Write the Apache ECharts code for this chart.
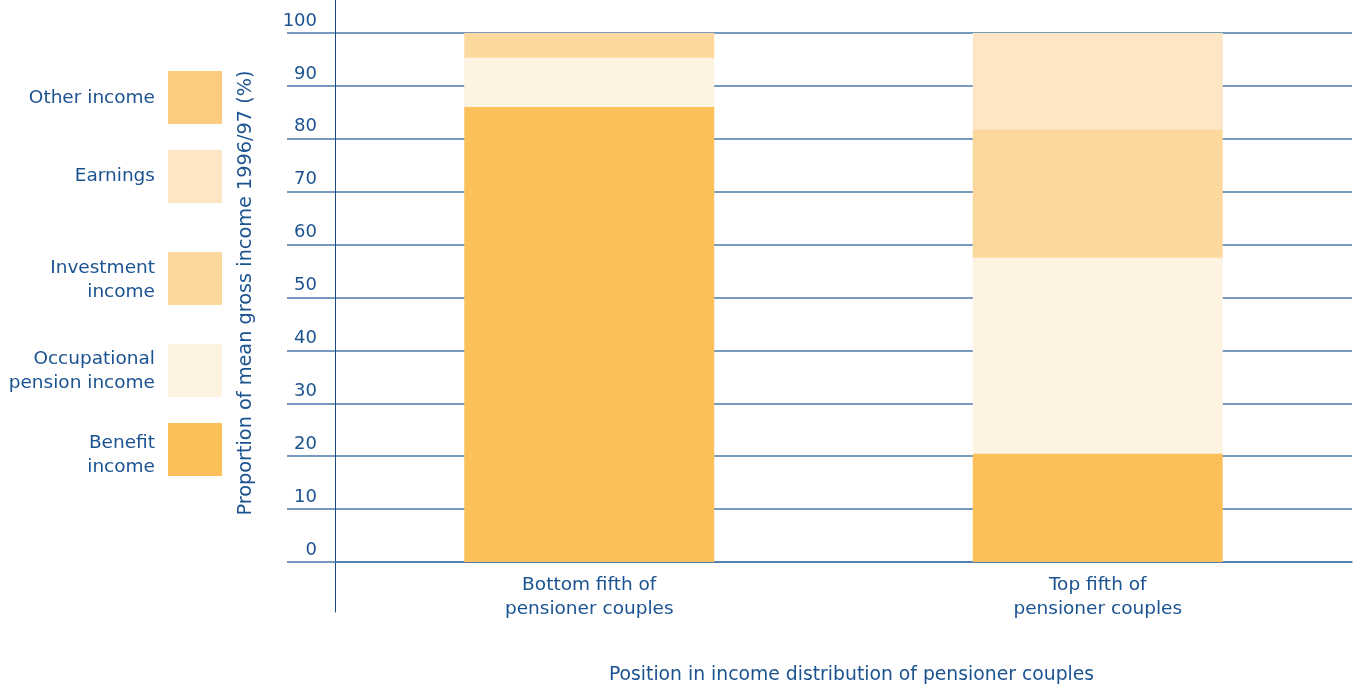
<!DOCTYPE html>
<html>
<head>
<meta charset="utf-8">
<script src="https://cdn.jsdelivr.net/npm/echarts@6/dist/echarts.min.js"></script>
<style>
  html, body { margin: 0; padding: 0; background: #ffffff; }
  #chart { width: 1359px; height: 687px; }
</style>
</head>
<body>
<div id="chart"></div>
<script>
// Income sources of pensioner couples, 1996/97 (% of mean gross income)
const categories = ['Bottom fifth of\npensioner couples', 'Top fifth of\npensioner couples'];
const benefitIncome = [86, 20.5];
const occupationalPensionIncome = [9.3, 37];
const investmentIncome = [4.7, 24.3];
const earnings = [0, 18.2];
const otherIncome = [0, 0];

const yMin = 0, yMax = 100, yStep = 10;

const TEXT = '#1b5391';
const GRID = '#4a79aa';
const AXIS = '#1f4a80';
const FONT = 'DejaVu Sans';

const KEY_W = 54, KEY_H = 53, LINE_H = 24;

// top: legend key position; shift: how far the key text sits below the key centre
const seriesDefs = [
  { name: 'Benefit income', label: 'Benefit\nincome', data: benefitIncome, color: '#fcc05a', top: 423, shift: 6 },
  { name: 'Occupational pension income', label: 'Occupational\npension income', data: occupationalPensionIncome, color: '#fdf3e0', top: 344, shift: 1 },
  { name: 'Investment income', label: 'Investment\nincome', data: investmentIncome, color: '#fcd89c', top: 252, shift: 2 },
  { name: 'Earnings', label: 'Earnings', data: earnings, color: '#fde6c4', top: 150, shift: 0 },
  { name: 'Other income', label: 'Other income', data: otherIncome, color: '#fbcc80', top: 71, shift: 1 }
];

// one legend block per entry so each key sits at its own height;
// a blank spacer line above the text pushes it down by `shift`
const legends = seriesDefs.map(d => {
  const lines = d.label.split('\n').length;
  const textH = lines * LINE_H + 2 * d.shift;
  const overflow = Math.max(0, (textH - KEY_H) / 2);
  return {
    data: [d.name],
    right: 1359 - 222,
    top: d.top - overflow,
    orient: 'vertical',
    align: 'right',
    padding: 0,
    icon: 'rect',
    itemWidth: KEY_W,
    itemHeight: KEY_H,
    selectedMode: false,
    formatter: () => (d.shift > 0 ? '{gap| }\n' : '') + d.label,
    textStyle: {
      color: TEXT, fontFamily: FONT, fontSize: 18.5, lineHeight: LINE_H,
      align: 'right', padding: [0, 8, 0, 0],
      rich: { gap: { lineHeight: 2 * d.shift, fontSize: 1 } }
    }
  };
});

const chart = echarts.init(document.getElementById('chart'), null, { renderer: 'canvas' });

chart.setOption({
  backgroundColor: '#ffffff',
  animation: false,
  legend: legends,
  grid: [
    { left: 335, right: 7, top: 33, bottom: 125, containLabel: false, outerBoundsMode: 'none' },
    { left: 335, width: 1, top: 0, bottom: 75, containLabel: false, outerBoundsMode: 'none' }
  ],
  xAxis: [
    {
      type: 'category',
      gridIndex: 0,
      data: categories,
      axisLine: { show: true, lineStyle: { color: GRID, width: 1.5 } },
      axisTick: { show: false },
      axisLabel: {
        color: TEXT, fontFamily: FONT, fontSize: 18.5, lineHeight: 24,
        margin: 11, interval: 0
      },
      name: 'Position in income distribution of pensioner couples',
      nameLocation: 'middle',
      nameGap: 104,
      nameTextStyle: { color: TEXT, fontFamily: FONT, fontSize: 18.8, padding: [0, 0, 0, 16] }
    },
    { type: 'category', gridIndex: 1, show: false, data: [''] }
  ],
  yAxis: [
    {
      type: 'value',
      gridIndex: 0,
      min: yMin,
      max: yMax,
      interval: yStep,
      axisLine: { show: false },
      axisTick: { show: true, inside: false, length: 48, lineStyle: { color: GRID, width: 1.5 } },
      splitLine: { show: true, lineStyle: { color: GRID, width: 1.5 } },
      axisLabel: {
        color: TEXT, fontFamily: FONT, fontSize: 18,
        margin: 18, align: 'right', verticalAlign: 'bottom', padding: [0, 0, 3, 0]
      },
      name: 'Proportion of mean gross income 1996/97 (%)',
      nameLocation: 'middle',
      nameGap: 80,
      nameTextStyle: { color: TEXT, fontFamily: FONT, fontSize: 19.3, padding: [0, 0, 0, 9] }
    },
    {
      type: 'value',
      gridIndex: 1,
      axisLine: { show: true, onZero: false, lineStyle: { color: AXIS, width: 1 } },
      axisTick: { show: false },
      axisLabel: { show: false },
      splitLine: { show: false }
    }
  ],
  series: seriesDefs.map(d => ({
    name: d.name,
    type: 'bar',
    stack: 'total',
    xAxisIndex: 0,
    yAxisIndex: 0,
    barWidth: 250,
    data: d.data,
    itemStyle: { color: d.color },
    emphasis: { disabled: true }
  }))
});
</script>
</body>
</html>
